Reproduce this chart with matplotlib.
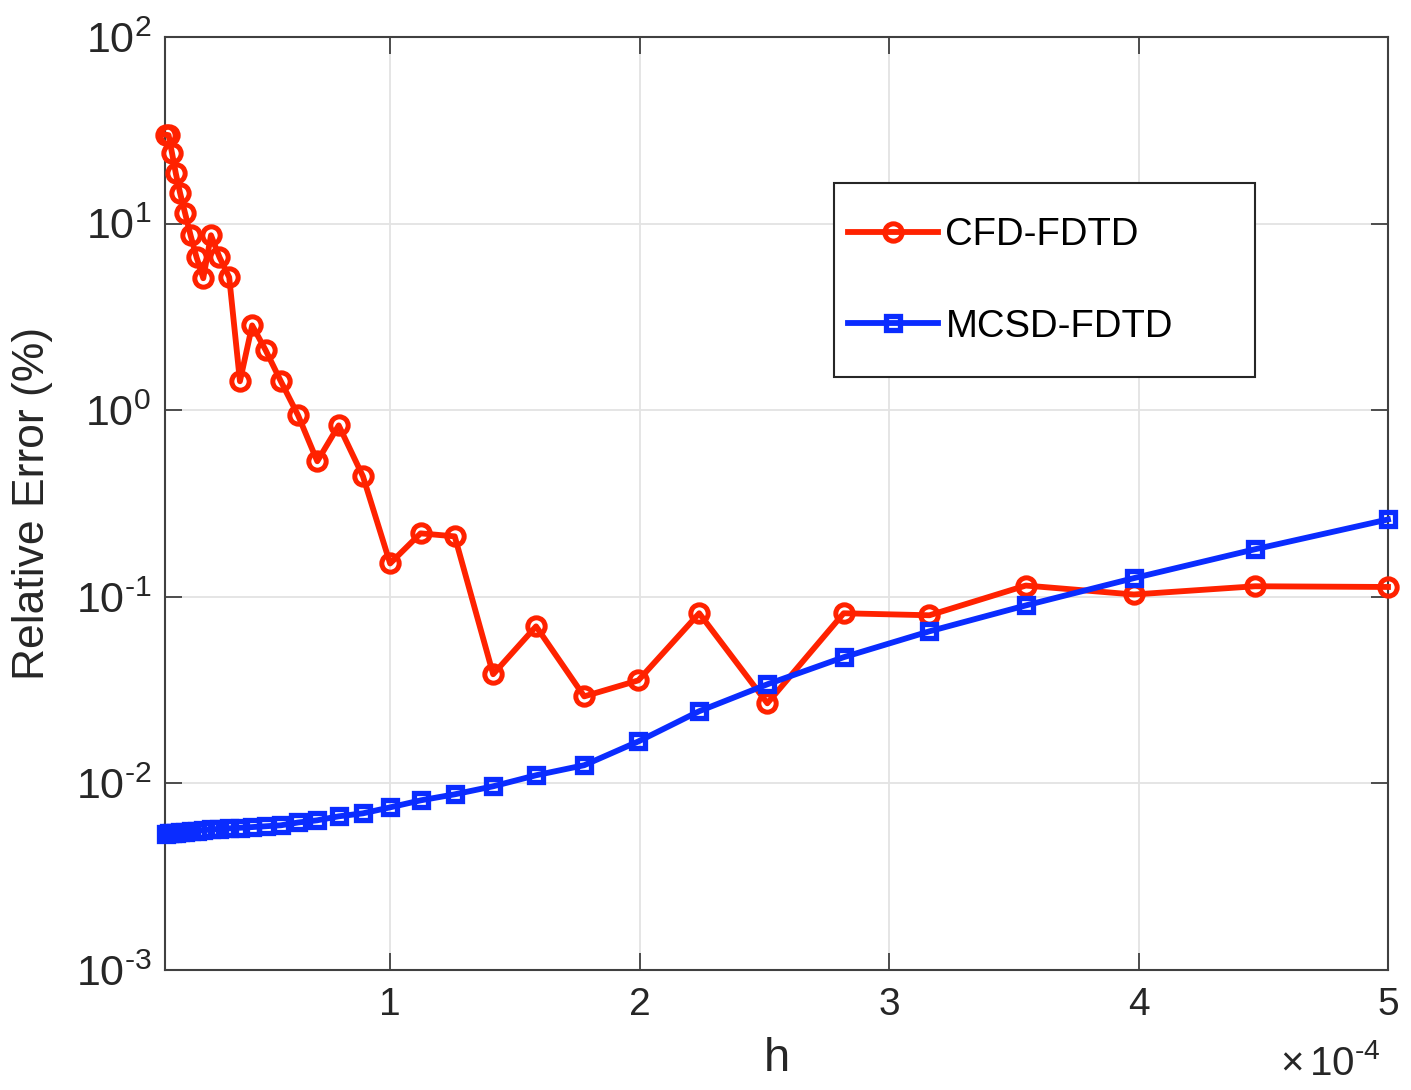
import matplotlib
matplotlib.use('Agg')
import math
import matplotlib.pyplot as plt
from matplotlib.patches import Rectangle
from matplotlib.ticker import LogLocator, NullLocator, FuncFormatter

# h in units of 1e-4
h_values = [0.100, 0.112, 0.126, 0.141, 0.158, 0.178, 0.200, 0.224, 0.251, 0.282,
            0.316, 0.355, 0.398, 0.447, 0.501, 0.562, 0.631, 0.708, 0.794, 0.891,
            1.000, 1.122, 1.259, 1.413, 1.585, 1.778, 1.995, 2.239, 2.512, 2.818,
            3.162, 3.548, 3.981, 4.467, 5.000]

cfd_error = [30.0, 29.8, 23.8, 18.6, 14.6, 11.4, 8.67, 6.61, 5.10, 8.67,
             6.61, 5.16, 1.43, 2.85, 2.10, 1.43, 0.94, 0.533, 0.83, 0.443,
             0.151, 0.219, 0.211, 0.0385, 0.0695, 0.0293, 0.0357, 0.0817, 0.0269, 0.0817,
             0.0797, 0.115, 0.103, 0.114, 0.113]

mcsd_error = [0.00538, 0.00540, 0.00542, 0.00545, 0.00548, 0.00551, 0.00555, 0.00559, 0.00563, 0.00567,
              0.00571, 0.00575, 0.00579, 0.00584, 0.00590, 0.00597, 0.00618, 0.00635, 0.00667, 0.00692,
              0.00745, 0.00812, 0.00875, 0.00966, 0.01107, 0.01253, 0.0168, 0.0244, 0.0340, 0.0475,
              0.0654, 0.0900, 0.126, 0.180, 0.260]

x_ticks = [1, 2, 3, 4, 5]

plt.rcParams['font.family'] = ['Liberation Sans', 'DejaVu Sans']
plt.rcParams['mathtext.fontset'] = 'custom'
plt.rcParams['mathtext.rm'] = 'Liberation Sans'
plt.rcParams['mathtext.it'] = 'Liberation Sans:italic'
plt.rcParams['mathtext.default'] = 'regular'

text_color = '#262626'
red = '#ff2200'
blue = '#0a2cff'


def decade_label(value, _pos):
    # MATLAB style: plain hyphen in the exponent
    exponent = int(round(math.log10(value)))
    return r'$10^{\text{%d}}$' % exponent


fig = plt.figure(figsize=(14.11, 10.90), dpi=100)
axes = fig.add_axes([0.117, 0.110, 0.8667, 0.856])

axes.plot(h_values, cfd_error, color=red, linewidth=4.2, marker='o',
          markersize=12.5, markerfacecolor='none', markeredgewidth=3.6,
          label='CFD-FDTD', clip_on=False, zorder=3)
axes.plot(h_values, mcsd_error, color=blue, linewidth=4.2, marker='s',
          markersize=9.5, markerfacecolor='none', markeredgewidth=3.8,
          label='MCSD-FDTD', clip_on=False, zorder=3)

axes.set_yscale('log')
axes.set_xlim(0.098, 5.0)
axes.set_ylim(1e-3, 1e2)
axes.set_xticks(x_ticks)
axes.set_xticklabels([str(t) for t in x_ticks])
axes.yaxis.set_major_locator(LogLocator(base=10, numticks=10))
axes.yaxis.set_minor_locator(NullLocator())
axes.yaxis.set_major_formatter(FuncFormatter(decade_label))

axes.grid(True, which='major', color='#e3e3e3', linewidth=1.3)
axes.set_axisbelow(True)
for spine in axes.spines.values():
    spine.set_color('#404040')
    spine.set_linewidth(1.5)
axes.tick_params(axis='both', which='major', direction='in', length=12, width=1.3,
                 top=True, right=True, colors='#404040', labelcolor=text_color)
axes.tick_params(axis='x', labelsize=28, pad=12)
axes.tick_params(axis='y', labelsize=31, pad=10)

axes.set_xlabel('h', fontsize=34, color=text_color, labelpad=10)
axes.set_ylabel('Relative Error (%)', fontsize=32, color=text_color, labelpad=16)

fig.text(0.907, 0.006, r'$\times\,10^{\text{-4}}$', fontsize=29, color=text_color,
         ha='left', va='bottom')

# legend frame drawn separately so that the paddings can match
axes.add_patch(Rectangle((0.547, 0.6356), 0.3443, 0.2079, transform=axes.transAxes,
                         facecolor='white', edgecolor='#262626', linewidth=1.5, zorder=4))
legend = axes.legend(loc='upper left', bbox_to_anchor=(0.5585, 0.807),
                     fontsize=27.5, handlelength=2.35, handletextpad=0.2,
                     borderpad=0, labelspacing=1.45, frameon=False, borderaxespad=0)
legend.set_zorder(5)
for text in legend.get_texts():
    text.set_color('black')

fig.savefig('out.png', dpi=100)
